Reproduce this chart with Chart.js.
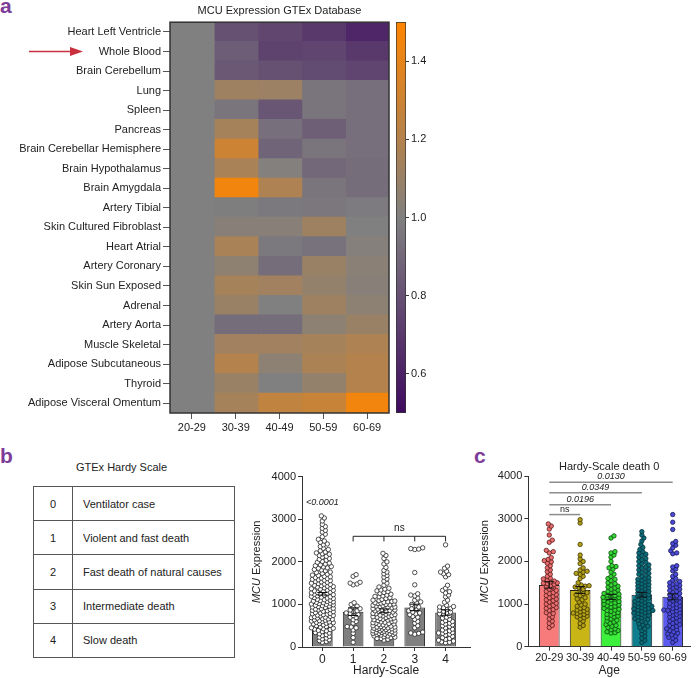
<!DOCTYPE html>
<html>
<head>
<meta charset="utf-8">
<script src="https://cdn.jsdelivr.net/npm/chart.js@4.4.1/dist/chart.umd.min.js"></script>
<style>
body { margin: 0; background: #fff; font-family: 'Liberation Sans', Arial, sans-serif; color: #222; }
#fig { position: relative; width: 697px; height: 678px; overflow: hidden; }
canvas { position: absolute; }
.panel { position: absolute; color: #7d3c98; font-weight: bold; font-size: 21px; line-height: 1; }
.cap { position: absolute; font-size: 11px; }
#hardyTable { position: absolute; left: 33px; top: 486px; width: 202px; height: 172px; border-collapse: collapse; font-size: 11px; }
#hardyTable td { border: 1px solid #555; padding: 0; }
#hardyTable td.code { width: 38px; text-align: center; }
#hardyTable td.desc { padding-left: 10px; }
</style>
</head>
<body>
<div id="fig">
  <div class="panel" style="left:0px;top:-5px">a</div>
  <div class="panel" style="left:0px;top:445px">b</div>
  <div class="panel" style="left:474px;top:445px">c</div>

  <canvas id="heat" width="400" height="445" style="left:0px;top:0px"></canvas>
  <canvas id="colorbar" width="60" height="445" style="left:390px;top:0px"></canvas>

  <div class="cap" style="left:76px;top:461px">GTEx Hardy Scale</div>
  <table id="hardyTable"></table>

  <canvas id="hardy" width="225" height="218" style="left:250px;top:460px"></canvas>
  <canvas id="age" width="227" height="218" style="left:470px;top:460px"></canvas>
</div>

<script>
// ---- panel a : heatmap ----
const ages = ['20-29', '30-39', '40-49', '50-59', '60-69'];
const tissues = ['Heart Left Ventricle', 'Whole Blood', 'Brain Cerebellum', 'Lung', 'Spleen',
  'Pancreas', 'Brain Cerebellar Hemisphere', 'Brain Hypothalamus', 'Brain Amygdala', 'Artery Tibial',
  'Skin Cultured Fibroblast', 'Heart Atrial', 'Artery Coronary', 'Skin Sun Exposed', 'Adrenal',
  'Artery Aorta', 'Muscle Skeletal', 'Adipose Subcutaneous', 'Thyroid', 'Adipose Visceral Omentum'];
const heat2029 = [1, 1, 1, 1, 1, 1, 1, 1, 1, 1, 1, 1, 1, 1, 1, 1, 1, 1, 1, 1];
const heat3039 = [0.80, 0.85, 0.83, 1.12, 0.95, 1.15, 1.30, 1.16, 1.45, 0.99, 1.03, 1.16, 1.06, 1.15, 1.10, 0.92, 1.13, 1.20, 1.10, 1.15];
const heat4049 = [0.76, 0.74, 0.80, 1.11, 0.82, 0.93, 0.88, 1.01, 1.18, 0.97, 1.03, 0.97, 0.92, 1.13, 1.00, 0.92, 1.13, 1.05, 1.00, 1.25];
const heat5059 = [0.70, 0.75, 0.78, 0.95, 0.95, 0.86, 0.95, 0.90, 0.95, 0.96, 1.12, 0.94, 1.10, 1.08, 1.12, 1.05, 1.15, 1.17, 1.08, 1.28];
const heat6069 = [0.62, 0.70, 0.75, 0.93, 0.93, 0.93, 0.93, 0.92, 0.92, 0.98, 1.00, 1.02, 1.04, 1.03, 1.05, 1.10, 1.18, 1.20, 1.20, 1.45];
const colorMin = 0.5, colorMax = 1.5;
const colorTicks = [0.6, 0.8, 1.0, 1.2, 1.4];

// ---- panel b : hardy scale ----
const hardyCodes = ['0', '1', '2', '3', '4'];
const hardyNames = ['Ventilator case', 'Violent and fast death', 'Fast death of natural causes', 'Intermediate death', 'Slow death'];
const hardyMeans = [1250, 830, 850, 930, 810];
const hardySem = [30, 90, 45, 75, 65];
const hardy0 = [3080, 3030, 2960, 2880, 2830, 2790, 2740, 2700, 2650, 2590, 2530,
  2490, 2460, 2420, 2400, 2360, 2320, 2290, 2260, 2230, 2210,
  2190, 2180, 2150, 2130, 2110, 2080, 2060, 2040, 2010, 1990, 1970, 1950, 1930, 1910,
  1890, 1880, 1860, 1850, 1820, 1810, 1790, 1760, 1750, 1730, 1710, 1690, 1680, 1660, 1650, 1630, 1620, 1610,
  1590, 1580, 1570, 1560, 1540, 1530, 1520, 1500, 1490, 1480, 1470, 1450, 1440, 1430, 1420, 1410, 1390, 1380, 1370, 1360, 1340, 1330, 1320, 1310,
  1290, 1285, 1270, 1260, 1250, 1240, 1230, 1220, 1200, 1190, 1180, 1170, 1160, 1150, 1140, 1120, 1110, 1100, 1090, 1080, 1070, 1060, 1050, 1040, 1030, 1020, 1010, 1000,
  990, 980, 970, 960, 950, 940, 930, 910, 900, 890, 880, 870, 860, 850, 840, 830, 810, 800, 790, 780, 770, 760, 750, 740, 730, 720, 710, 700,
  690, 680, 670, 660, 650, 640, 630, 620, 610, 600, 590, 580, 570, 560, 550, 540, 520, 510, 500, 480, 470, 450, 440, 430, 420, 410,
  390, 380, 360, 340, 330, 310, 290, 270, 250, 230, 210, 190, 170, 150, 130, 110];
const hardy1 = [1700, 1660, 1520, 1500, 1480, 1460, 1040, 1000, 960, 930, 900, 870, 850, 830, 800, 790,
  760, 740, 700, 690, 640, 600, 560, 480, 470, 450, 400, 320, 220, 110];
const hardy2 = [2200, 2150, 2080, 2000, 1950, 1870, 1800, 1760, 1720, 1680, 1640, 1600, 1550, 1500, 1450, 1410,
  1380, 1360, 1340, 1320, 1300, 1280, 1260, 1240, 1220, 1200, 1190, 1180, 1160, 1140, 1120, 1100, 1090, 1080, 1070, 1060, 1050, 1040, 1030, 1020, 1010, 1000,
  990, 980, 970, 960, 950, 940, 930, 920, 910, 900, 890, 880, 870, 860, 850, 840, 830, 820, 810, 800, 790, 780, 770, 760, 750, 740, 730, 720, 710, 700,
  690, 680, 670, 660, 650, 640, 630, 620, 610, 600, 590, 580, 570, 560, 550, 540, 530, 520, 510, 500,
  490, 480, 470, 470, 460, 450, 440, 440, 430, 420, 410, 410, 400, 390, 380, 380, 370, 360, 350, 350, 340, 330, 320, 320, 310, 300, 290, 290, 280, 260, 260, 240, 230, 220, 200, 200, 180, 160];
const hardy3 = [2330, 2310, 2300, 2290, 1750, 1460, 1250, 1220, 1200, 1150, 1100, 1060, 1030, 1000, 960, 940, 900,
  880, 850, 820, 800, 780, 760, 720, 700, 650, 600, 560, 500, 450, 350, 330, 320, 300];
const hardy4 = [2400, 1900, 1850, 1780, 1760, 1720, 1700, 1650, 1450, 1380, 1330, 1300, 1270, 1220, 1180, 1100, 1050,
  980, 950, 940, 920, 900, 880, 860, 840, 820, 800, 780, 760, 740, 700, 680, 650, 620, 600, 580, 560, 540, 520, 500,
  480, 450, 420, 400, 380, 360, 340, 330, 320, 300, 280, 250, 220, 200, 180, 160, 140, 120, 110, 100];
const hardyGroups = [hardy0, hardy1, hardy2, hardy3, hardy4];

// ---- panel c : hardy 0 by age ----
const ageMeans = [1450, 1330, 1170, 1220, 1170];
const ageSem = [75, 80, 60, 55, 70];
const age2029 = [2880, 2830, 2760, 2620, 2500, 2450, 2260, 2230, 2200, 2090, 2050, 2020, 1990, 1960, 1900, 1850, 1800, 1760,
  1700, 1650, 1610, 1590, 1560, 1540, 1520, 1500, 1490, 1480, 1460, 1430, 1400, 1380, 1350, 1320, 1300, 1270, 1250, 1220,
  1200, 1180, 1150, 1120, 1100, 1080, 1050, 1020, 1000, 970, 950, 920, 900, 870, 850, 800, 780, 750, 700, 650, 600, 550, 500, 450];
const age3039 = [2980, 2900, 2400, 2150, 2060, 2000, 1950, 1850, 1800, 1770, 1750, 1720, 1700, 1650, 1600, 1500, 1450, 1430,
  1420, 1400, 1380, 1350, 1300, 1270, 1250, 1220, 1200, 1150, 1120, 1100, 1050, 1000, 980, 950, 920, 900, 880, 860, 840,
  820, 800, 790, 780, 760, 740, 720, 700, 680, 650, 600, 550, 500, 460];
const age4049 = [2600, 2550, 2230, 2200, 2150, 2100, 2000, 1900, 1880, 1850, 1820, 1750, 1700, 1650, 1600, 1580, 1550, 1500,
  1480, 1450, 1420, 1400, 1380, 1350, 1330, 1300, 1280, 1260, 1250, 1230, 1210, 1200, 1180, 1160, 1150, 1130, 1120, 1100,
  1080, 1060, 1050, 1030, 1010, 1000, 980, 960, 950, 930, 900, 880, 860, 850, 830, 800, 780, 760, 740, 720, 700, 680, 650,
  620, 600, 580, 550, 520, 500, 480, 450, 420, 400, 380, 350, 330, 320];
const age5059 = [2700, 2620, 2550, 2480, 2400, 2330, 2280, 2230, 2200, 2170, 2140, 2100, 2070, 2040, 2000, 1980, 1950, 1920,
  1900, 1870, 1850, 1820, 1800, 1780, 1750, 1720, 1700, 1680, 1650, 1620, 1600, 1580, 1560, 1540, 1520, 1500, 1480, 1460,
  1440, 1420, 1400, 1380, 1360, 1340, 1320, 1300, 1280, 1260, 1240, 1220, 1200, 1180, 1160, 1140, 1120, 1100, 1080, 1060,
  1040, 1020, 1000, 990, 980, 960, 950, 940, 920, 900, 890, 880, 860, 850, 840, 820, 800, 790, 780, 760, 740, 720, 700, 680, 660,
  640, 620, 600, 570, 540, 510, 480, 450, 420, 380, 340, 300, 250, 200, 150, 100];
const age6069 = [3100, 2920, 2750, 2470, 2420, 2380, 2320, 2250, 2200, 2180, 1900, 1870, 1820, 1780, 1700, 1650, 1600, 1560,
  1530, 1500, 1480, 1460, 1440, 1420, 1400, 1380, 1350, 1320, 1300, 1280, 1250, 1220, 1200, 1180, 1150, 1120, 1100, 1080,
  1050, 1020, 1000, 980, 960, 940, 920, 900, 880, 860, 850, 840, 820, 800, 780, 760, 740, 720, 700, 680, 650, 620, 600, 580,
  550, 520, 500, 480, 450, 420, 400, 380, 350, 320, 300, 280, 250, 220, 200, 150, 100];
const ageGroups = [age2029, age3039, age4049, age5059, age6069];
const ageBarColors = ['#f77b7b', '#c9b516', '#3cf03c', '#0f7f8f', '#5b5bef'];
const agePointColors = ['#e86f6f', '#b5a21a', '#35d835', '#0b6b78', '#4b4bd8'];
const agePointBorders = ['#5a1a1a', '#3a3300', '#0a4a0a', '#06323a', '#1a1a55'];
const ageComparisons = ['ns', '0.0196', '0.0349', '0.0130'];
const ageComparisonLevels = [3100, 3330, 3610, 3860];

Chart.defaults.font.family = "'Liberation Sans', Arial, sans-serif";
Chart.defaults.font.size = 11;
Chart.defaults.color = '#222';
Chart.defaults.animation = false;
Chart.defaults.plugins.legend.display = false;
Chart.defaults.plugins.tooltip.enabled = false;

// purple -> grey -> orange
const purple = [63, 10, 95], grey = [128, 128, 128], orange = [255, 133, 0];
function colorFor(v) {
  let t = (v - colorMin) / (colorMax - colorMin);
  t = Math.max(0, Math.min(1, t));
  let a, b, u;
  if (t < 0.5) { a = purple; b = grey; u = t / 0.5; } else { a = grey; b = orange; u = (t - 0.5) / 0.5; }
  const c = a.map((x, i) => Math.round(x + (b[i] - x) * u));
  return 'rgb(' + c.join(',') + ')';
}

var heatCols = [heat2029, heat3039, heat4049, heat5059, heat6069];

var framePlugin = {
  id: 'frame',
  afterDatasetsDraw(chart) {
    const { ctx, chartArea: a } = chart;
    ctx.save();
    ctx.strokeStyle = '#333';
    ctx.lineWidth = 1.5;
    ctx.strokeRect(a.left, a.top, a.right - a.left, a.bottom - a.top);
    ctx.restore();
  }
};

var arrowPlugin = {
  id: 'arrow',
  afterDraw(chart, args, opts) {
    const ctx = chart.ctx;
    const y = chart.scales.y.getPixelForValue(tissues.indexOf(opts.tissue));
    ctx.save();
    ctx.strokeStyle = '#c8313d';
    ctx.fillStyle = '#c8313d';
    ctx.lineWidth = 1.5;
    ctx.beginPath();
    ctx.moveTo(opts.from, y);
    ctx.lineTo(opts.to - 10, y);
    ctx.stroke();
    ctx.beginPath();
    ctx.moveTo(opts.to, y);
    ctx.lineTo(opts.to - 13, y - 4.5);
    ctx.lineTo(opts.to - 13, y + 4.5);
    ctx.closePath();
    ctx.fill();
    ctx.restore();
  }
};

var heatChart = new Chart(document.getElementById('heat'), {
  type: 'bar',
  data: {
    labels: tissues,
    datasets: heatCols.map(function (col, i) {
      return {
        label: ages[i],
        data: col.map(function () { return 1; }),
        backgroundColor: col.map(colorFor),
        borderWidth: 0,
        inflateAmount: 0.8,
        barPercentage: 1,
        categoryPercentage: 1
      };
    })
  },
  options: {
    responsive: false,
    indexAxis: 'y',
    layout: { padding: { right: 11 } },
    plugins: {
      title: { display: true, text: 'MCU Expression GTEx Database', fullSize: false, color: '#222',
        font: { size: 11, weight: 'normal' }, padding: { top: 4, bottom: 5 } },
      arrow: { tissue: 'Whole Blood', from: 29, to: 83 }
    },
    scales: {
      x: {
        type: 'linear', stacked: true, min: 0, max: 5,
        afterBuildTicks: function (s) { s.ticks = ages.map(function (a, i) { return { value: i + 0.5 }; }); },
        afterFit: function (s) { s.height = 32; },
        ticks: { autoSkip: false, maxRotation: 0, padding: 2, callback: function (v) { return ages[Math.round(v - 0.5)]; } },
        grid: { drawOnChartArea: false, offset: false, tickLength: 6, color: '#555' },
        border: { display: false }
      },
      y: {
        stacked: true,
        afterFit: function (s) { s.width = 170; },
        ticks: { autoSkip: false, padding: 2 },
        grid: { drawOnChartArea: false, offset: false, tickLength: 7, color: '#555' },
        border: { display: false }
      }
    }
  },
  plugins: [framePlugin, arrowPlugin]
});

var colorbarChart = new Chart(document.getElementById('colorbar'), {
  type: 'bar',
  data: {
    labels: [''],
    datasets: [{
      data: [[colorMin, colorMax]],
      backgroundColor: function (c) {
        const area = c.chart.chartArea;
        if (!area) return '#808080';
        const g = c.chart.ctx.createLinearGradient(0, area.bottom, 0, area.top);
        g.addColorStop(0, colorFor(colorMin));
        g.addColorStop(0.5, colorFor((colorMin + colorMax) / 2));
        g.addColorStop(1, colorFor(colorMax));
        return g;
      },
      borderColor: '#333',
      borderWidth: 1,
      borderSkipped: false,
      barPercentage: 1,
      categoryPercentage: 1
    }]
  },
  options: {
    responsive: false,
    layout: { padding: { top: 22, left: 6, bottom: 32 } },
    scales: {
      x: { display: false },
      y: {
        position: 'right', min: colorMin, max: colorMax,
        afterBuildTicks: function (s) { s.ticks = colorTicks.map(function (v) { return { value: v }; }); },
        afterFit: function (s) { s.width = 44; },
        ticks: { padding: 2, callback: function (v) { return v.toFixed(1); } },
        grid: { drawOnChartArea: false, tickLength: 3, color: '#333' },
        border: { display: false }
      }
    }
  }
});

// table
var table = document.getElementById('hardyTable');
hardyCodes.forEach(function (code, i) {
  var tr = document.createElement('tr');
  tr.innerHTML = '<td class="code">' + code + '</td><td class="desc">' + hardyNames[i] + '</td>';
  table.appendChild(tr);
});

// simple beeswarm placement (pixels -> data units)
function swarm(values, center, pxX, pxY, gap, maxOff) {
  var sorted = values.slice().sort(function (a, b) { return a - b; });
  var placed = [];
  return sorted.map(function (v) {
    var py = v * pxY;
    var best = 0, bestScore = -1;
    for (var k = 0; k <= maxOff * 2; k++) {
      var off = (k % 2 ? 1 : -1) * Math.ceil(k / 2);
      var minD = Infinity;
      for (var j = 0; j < placed.length; j++) {
        var dy = placed[j].py - py;
        if (Math.abs(dy) >= gap) continue;
        var d = Math.hypot(placed[j].ox - off, dy);
        if (d < minD) minD = d;
      }
      if (minD >= gap) { best = off; break; }
      if (minD > bestScore) { bestScore = minD; best = off; }
    }
    placed.push({ py: py, ox: best });
    return { x: center + best / pxX, y: v };
  });
}

var yTitlePlugin = {
  id: 'yTitle',
  afterDraw(chart, args, opts) {
    const { ctx, chartArea } = chart;
    ctx.save();
    ctx.translate(opts.x, (chartArea.top + chartArea.bottom) / 2);
    ctx.rotate(-Math.PI / 2);
    ctx.fillStyle = '#222';
    ctx.textBaseline = 'middle';
    ctx.textAlign = 'left';
    const it = "italic 11px 'Liberation Sans', Arial";
    const nf = "11px 'Liberation Sans', Arial";
    ctx.font = it; const w1 = ctx.measureText('MCU').width;
    ctx.font = nf; const w2 = ctx.measureText(' Expression').width;
    const sx = -(w1 + w2) / 2;
    ctx.font = it; ctx.fillText('MCU', sx, 0);
    ctx.font = nf; ctx.fillText(' Expression', sx + w1, 0);
    ctx.restore();
  }
};

var errorBarPlugin = {
  id: 'errorBars',
  afterDatasetsDraw(chart, args, opts) {
    const { ctx, scales: { x, y } } = chart;
    ctx.save();
    ctx.strokeStyle = '#111';
    ctx.lineWidth = 1;
    opts.means.forEach(function (m, i) {
      const px = x.getPixelForValue(i);
      const t = y.getPixelForValue(m + opts.sems[i]);
      const b = y.getPixelForValue(m - opts.sems[i]);
      ctx.beginPath();
      ctx.moveTo(px, t); ctx.lineTo(px, b);
      ctx.moveTo(px - 5, t); ctx.lineTo(px + 5, t);
      ctx.moveTo(px - 5, b); ctx.lineTo(px + 5, b);
      ctx.stroke();
    });
    ctx.restore();
  }
};

var hardySigPlugin = {
  id: 'hardySig',
  afterDraw(chart) {
    const { ctx, scales: { x, y } } = chart;
    ctx.save();
    ctx.fillStyle = '#222';
    ctx.textAlign = 'center';
    ctx.textBaseline = 'alphabetic';
    ctx.font = "italic 9px 'Liberation Sans', Arial";
    ctx.fillText('<0.0001', x.getPixelForValue(0), y.getPixelForValue(3330));
    ctx.strokeStyle = '#222';
    ctx.lineWidth = 1;
    const top = y.getPixelForValue(2600), drop = y.getPixelForValue(2480);
    ctx.beginPath();
    ctx.moveTo(x.getPixelForValue(1), top);
    ctx.lineTo(x.getPixelForValue(4), top);
    [1, 2, 3, 4].forEach(function (i) {
      ctx.moveTo(x.getPixelForValue(i), top);
      ctx.lineTo(x.getPixelForValue(i), drop);
    });
    ctx.stroke();
    ctx.font = "10px 'Liberation Sans', Arial";
    ctx.fillText('ns', x.getPixelForValue(2.5), top - 5);
    ctx.restore();
  }
};

var ageSigPlugin = {
  id: 'ageSig',
  afterDraw(chart) {
    const { ctx, scales: { x, y } } = chart;
    ctx.save();
    ctx.strokeStyle = '#8c8c8c';
    ctx.lineWidth = 1.5;
    ctx.fillStyle = '#222';
    ctx.textAlign = 'center';
    ageComparisons.forEach(function (lab, i) {
      const py = y.getPixelForValue(ageComparisonLevels[i]);
      const x0 = x.getPixelForValue(0), x1 = x.getPixelForValue(i + 1);
      ctx.beginPath(); ctx.moveTo(x0, py); ctx.lineTo(x1, py); ctx.stroke();
      ctx.font = (lab === 'ns' ? '' : 'italic ') + "9px 'Liberation Sans', Arial";
      ctx.fillText(lab, (x0 + x1) / 2, py - 3);
    });
    ctx.restore();
  }
};

function valueAxis() {
  return {
    min: 0, max: 4000,
    ticks: { stepSize: 1000, padding: 2, callback: function (v) { return String(v); } },
    grid: { drawOnChartArea: false, tickLength: 4, color: '#333' },
    border: { color: '#333', width: 1 }
  };
}

var hardyChart = new Chart(document.getElementById('hardy'), {
  type: 'bar',
  data: {
    datasets: [{
      type: 'scatter',
      data: [].concat.apply([], hardyGroups.map(function (g, i) { return swarm(g, i, 31, 0.0426, 3.4, 11); })),
      pointRadius: 2.2,
      pointBackgroundColor: '#fff',
      pointBorderColor: '#222',
      pointBorderWidth: 0.8,
      order: 0
    }, {
      type: 'bar',
      data: hardyMeans.map(function (m, i) { return { x: i, y: m }; }),
      backgroundColor: '#808080',
      borderColor: '#222',
      borderWidth: 1,
      barPercentage: 0.67,
      categoryPercentage: 1,
      order: 1
    }]
  },
  options: {
    responsive: false,
    layout: { padding: { top: 16.7, right: 3 } },
    plugins: {
      yTitle: { x: 7 },
      errorBars: { means: hardyMeans, sems: hardySem }
    },
    scales: {
      x: {
        type: 'linear', min: -0.66, max: 4.8, offset: false,
        afterBuildTicks: function (s) { s.ticks = hardyCodes.map(function (c, i) { return { value: i }; }); },
        afterFit: function (s) { s.height = 31; },
        ticks: { autoSkip: false, maxRotation: 0, padding: 1, font: { size: 12 }, callback: function (v) { return hardyCodes[v]; } },
        grid: { drawOnChartArea: false, offset: false, tickLength: 4, color: '#333' },
        border: { color: '#333' },
        title: { display: true, text: 'Hardy-Scale', font: { size: 12 }, padding: 0 }
      },
      y: Object.assign(valueAxis(), { afterFit: function (s) { s.width = 52; } })
    }
  },
  plugins: [yTitlePlugin, errorBarPlugin, hardySigPlugin]
});

var ageChart = new Chart(document.getElementById('age'), {
  type: 'bar',
  data: {
    datasets: ageGroups.map(function (g, i) {
      return {
        type: 'scatter',
        data: swarm(g, i, 31, 0.0426, 3.4, 11),
        pointRadius: 2.2,
        pointBackgroundColor: agePointColors[i],
        pointBorderColor: agePointBorders[i],
        pointBorderWidth: 0.8,
        order: 0
      };
    }).concat([{
      type: 'bar',
      data: ageMeans.map(function (m, i) { return { x: i, y: m }; }),
      backgroundColor: ageBarColors,
      borderColor: '#222',
      borderWidth: 1,
      barPercentage: 0.67,
      categoryPercentage: 1,
      order: 1
    }])
  },
  options: {
    responsive: false,
    layout: { padding: { right: 7 } },
    plugins: {
      title: { display: true, text: 'Hardy-Scale death 0', fullSize: false, color: '#222',
        font: { size: 11, weight: 'normal' }, padding: { top: 0, bottom: 3 } },
      yTitle: { x: 15 },
      errorBars: { means: ageMeans, sems: ageSem }
    },
    scales: {
      x: {
        type: 'linear', min: -0.68, max: 4.56, offset: false,
        afterBuildTicks: function (s) { s.ticks = ages.map(function (a, i) { return { value: i }; }); },
        afterFit: function (s) { s.height = 31.3; },
        ticks: { autoSkip: false, maxRotation: 0, padding: 1, font: { size: 11 }, callback: function (v) { return ages[v]; } },
        grid: { drawOnChartArea: false, offset: false, tickLength: 4, color: '#333' },
        border: { color: '#333' },
        title: { display: true, text: 'Age', font: { size: 12 }, padding: 0 }
      },
      y: Object.assign(valueAxis(), { afterFit: function (s) { s.width = 58.3; } })
    }
  },
  plugins: [yTitlePlugin, errorBarPlugin, ageSigPlugin]
});
</script>
</body>
</html>
